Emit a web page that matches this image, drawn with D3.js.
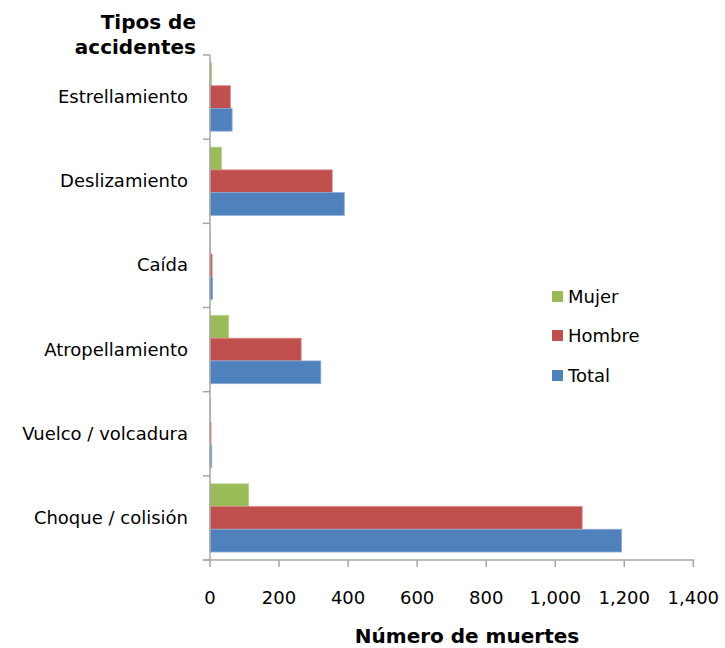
<!DOCTYPE html>
<html><head><meta charset="utf-8">
<script src="https://cdn.jsdelivr.net/npm/d3@7"></script>
<style>body{margin:0;background:#fff}svg{display:block}</style>
</head><body>
<script>
const categories = ["Estrellamiento","Deslizamiento","Caída","Atropellamiento","Vuelco / volcadura","Choque / colisión"];
const seriesNames = ["Mujer","Hombre","Total"];
const mujer  = [5, 33, 1, 54, 2, 112];
const hombre = [59, 354, 6, 264, 3, 1078];
const total  = [64, 389, 7, 321, 5, 1192];
const xTicks = [0,200,400,600,800,1000,1200,1400];
const colors = ["#9BBB59","#C0504D","#4F81BD"];
const strokes = ["#b8d08a","#d98683","#8aaad6"];

const W=725,H=648;
const svg=d3.select("body").append("svg").attr("width",W).attr("height",H);
const font="'DejaVu Sans',sans-serif";
const pLeft=210, pRight=693.3, pTop=55, pBottom=560;

const x=d3.scaleLinear().domain([0,1400]).range([pLeft,pRight]);
const y=d3.scaleBand().domain(categories).range([pTop,pBottom]).paddingInner(0.19).paddingOuter(0.095);
const ys=d3.scaleBand().domain(seriesNames).range([0,y.bandwidth()]);
const data=[mujer,hombre,total];

// bars
seriesNames.forEach((s,si)=>{
  svg.append("g").selectAll("rect").data(categories).join("rect")
    .attr("x",x(0))
    .attr("y",(c)=>y(c)+ys(s))
    .attr("width",(c,i)=>Math.max(0,x(data[si][i])-x(0)))
    .attr("height",ys.bandwidth())
    .attr("fill",colors[si])
    .attr("stroke",strokes[si]).attr("stroke-width",0.8);
});

const axisColor="#a6a6a6";
// y axis
const yb=d3.scaleLinear().domain([0,categories.length]).range([pTop,pBottom]);
const ga=svg.append("g");
ga.append("line").attr("x1",pLeft).attr("x2",pLeft).attr("y1",pTop).attr("y2",pBottom).attr("stroke",axisColor).attr("stroke-width",1.5);
ga.selectAll("line.yt").data(d3.range(categories.length+1)).join("line").attr("class","yt")
  .attr("x1",pLeft-7).attr("x2",pLeft).attr("y1",d=>yb(d)).attr("y2",d=>yb(d))
  .attr("stroke",axisColor).attr("stroke-width",1.5);
// x axis
ga.append("line").attr("x1",pLeft-7).attr("x2",pRight+0.75).attr("y1",pBottom).attr("y2",pBottom).attr("stroke",axisColor).attr("stroke-width",1.5);
ga.selectAll("line.xt").data(xTicks).join("line").attr("class","xt")
  .attr("x1",d=>x(d)).attr("x2",d=>x(d)).attr("y1",pBottom).attr("y2",pBottom+7)
  .attr("stroke",axisColor).attr("stroke-width",1.5);

const fmt=d3.format(",");
svg.append("g").selectAll("text").data(xTicks).join("text")
  .attr("x",d=>x(d)).attr("y",604).attr("text-anchor","middle")
  .attr("font-family",font).attr("font-size",18).attr("fill","#000")
  .text(d=>fmt(d));

svg.append("g").selectAll("text").data(categories).join("text")
  .attr("x",188).attr("y",c=>y(c)+y.bandwidth()/2+6).attr("text-anchor","end")
  .attr("font-family",font).attr("font-size",18).attr("fill","#000")
  .text(c=>c);

// titles
const tt=svg.append("text").attr("text-anchor","end").attr("font-family",font).attr("font-weight","bold").attr("font-size",20).attr("fill","#000");
tt.append("tspan").attr("x",196).attr("y",29).text("Tipos de");
tt.append("tspan").attr("x",196).attr("y",54).text("accidentes");
svg.append("text").attr("x",467).attr("y",643).attr("text-anchor","middle")
  .attr("font-family",font).attr("font-weight","bold").attr("font-size",20).text("Número de muertes");

// legend
const lg=svg.append("g");
const legY=[296,335,375];
seriesNames.forEach((s,i)=>{
  lg.append("rect").attr("x",552).attr("y",legY[i]-5).attr("width",11).attr("height",11).attr("fill",colors[i]);
  lg.append("text").attr("x",568).attr("y",legY[i]+7).attr("font-family",font).attr("font-size",18).text(s);
});
</script>
</body></html>
